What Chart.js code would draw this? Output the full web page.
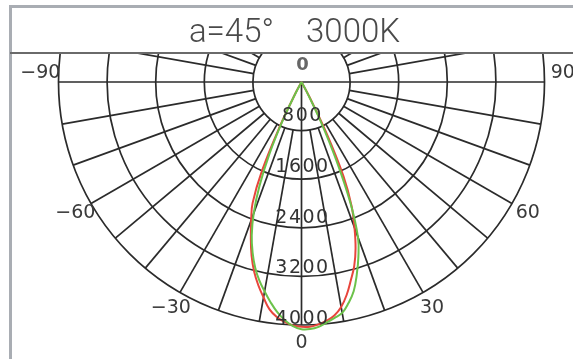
<!DOCTYPE html>
<html>
<head>
<meta charset="utf-8">
<script src="https://cdn.jsdelivr.net/npm/chart.js@4.4.1/dist/chart.umd.min.js"></script>
<style>
  html, body { margin: 0; padding: 0; background: #fff; }
  #wrap { position: relative; width: 573px; height: 359px; overflow: hidden; }
  #chartBox { position: absolute; left: 0; top: 0; width: 573px; height: 359px; }
  .frame-left { position: absolute; left: 9px; top: 5px; width: 3px; height: 354px; background: #a9adb3; }
  .frame-top { position: absolute; left: 9px; top: 5px; right: 0; height: 3px; background: #a9adb3; }
  .title-rule { position: absolute; left: 10px; top: 52px; right: 0; height: 2px; background: #6a6a6a; }
  .title { position: absolute; left: 16px; right: 0; top: 11px; text-align: center;
           font: 300 33px Roboto, "Liberation Sans", sans-serif; color: #4a4a4a; white-space: pre; }
</style>
</head>
<body>
<div id="wrap">
  <div id="chartBox"><canvas id="polarChart"></canvas></div>
  <div class="frame-left"></div>
  <div class="frame-top"></div>
  <div class="title-rule"></div>
  <div class="title">a=45°    3000K</div>
</div>
<script>
// Photometric data, candela vs angle (0 = straight down)
const angles = [-30, -28, -26, -24, -22, -20, -18, -16, -14, -12, -10, -8, -6, -4, -2,
                0, 2, 4, 6, 8, 10, 12, 14, 16, 18, 20, 22, 24, 26, 28, 30];
const intensityGreen = [0, 200, 700, 1300, 1850, 2300, 2650, 2920, 3150, 3340, 3500, 3660, 3810, 3930, 4020,
                        4070, 4070, 4040, 3980, 3920, 3860, 3720, 3550, 3300, 3030, 2720, 2150, 1400, 720, 180, 0];
const intensityRed = [0, 220, 800, 1600, 2150, 2420, 2700, 2980, 3220, 3420, 3600, 3780, 3890, 3960, 4010,
                      4030, 4030, 4000, 3950, 3880, 3760, 3580, 3360, 3150, 2880, 2550, 2200, 1700, 950, 280, 0];
const ringValues = [800, 1600, 2400, 3200, 4000];
const angleTicks = [-90, -60, -30, 0, 30, 60, 90];
const centerLabel = '0';

const PX_PER_4000 = 243;
const UNITS_PER_PX = 4000 / PX_PER_4000;
const CENTER_X = 301.5, CENTER_Y = 82, TOP = 54;

function toPoints(values) {
    return angles.map((deg, i) => {
        const a = deg * Math.PI / 180;
        return { x: values[i] * Math.sin(a), y: -values[i] * Math.cos(a) };
    });
}

function polarPx(chart, deg, r) {
    const a = deg * Math.PI / 180;
    return {
        x: chart.scales.x.getPixelForValue(r * Math.sin(a)),
        y: chart.scales.y.getPixelForValue(-r * Math.cos(a))
    };
}

const polarGrid = {
    id: 'polarGrid',
    beforeDatasetsDraw(chart) {
        const ctx = chart.ctx;
        const area = chart.chartArea;
        const c = polarPx(chart, 0, 0);
        const rPx = v => chart.scales.x.getPixelForValue(v) - chart.scales.x.getPixelForValue(0);
        const outer = ringValues[ringValues.length - 1];
        const inner = ringValues[0];
        ctx.save();
        ctx.beginPath();
        ctx.rect(area.left, area.top, area.right - area.left, area.bottom - area.top);
        ctx.clip();
        ctx.strokeStyle = '#2b2b2b';
        ctx.lineWidth = 1.7;
        ringValues.forEach(v => {
            ctx.beginPath();
            ctx.arc(c.x, c.y, rPx(v), 0, Math.PI * 2);
            ctx.stroke();
        });
        for (let deg = -180; deg < 180; deg += 10) {
            const full = deg === 0 || deg === 90 || deg === -90;
            const p1 = polarPx(chart, deg, full ? 0 : inner);
            const p2 = polarPx(chart, deg, outer);
            ctx.beginPath();
            ctx.moveTo(p1.x, p1.y);
            ctx.lineTo(p2.x, p2.y);
            ctx.stroke();
        }
        ctx.restore();
    },
    afterDatasetsDraw(chart) {
        const ctx = chart.ctx;
        const scale = chart.scales.x;
        const rPx = v => scale.getPixelForValue(v) - scale.getPixelForValue(0);
        const c = polarPx(chart, 0, 0);
        ctx.save();
        ctx.fillStyle = '#333';
        ctx.textAlign = 'center';
        ctx.textBaseline = 'middle';
        ctx.font = '19px "DejaVu Sans", sans-serif';
        if ('letterSpacing' in ctx) ctx.letterSpacing = '1.5px';
        // ring labels along the vertical axis
        ringValues.forEach(v => {
            const r = rPx(v) * 1.04 - 16;
            ctx.fillText(String(v), c.x + 1, c.y + r);
        });
        // angle labels outside the outer ring
        if ('letterSpacing' in ctx) ctx.letterSpacing = '0px';
        ctx.fillStyle = '#3a3a3a';
        const labelR = 4300;
        angleTicks.forEach(deg => {
            const p = polarPx(chart, deg, labelR);
            const shiftY = Math.abs(deg) === 90 ? -9 : 0;
            const txt = deg < 0 ? '\u2212' + Math.abs(deg) : String(deg);
            ctx.fillText(txt, p.x, p.y + shiftY);
        });
        ctx.font = 'bold 18px "DejaVu Sans", sans-serif';
        ctx.fillStyle = '#666';
        ctx.fillText(centerLabel, c.x + 1, c.y - 17);
        ctx.restore();
    }
};

const chart = new Chart(document.getElementById('polarChart'), {
    type: 'scatter',
    data: {
        datasets: [{
            label: 'green',
            data: toPoints(intensityGreen),
            showLine: true,
            borderColor: '#6cc24a',
            borderWidth: 2,
            pointRadius: 0,
            tension: 0.4,
            fill: false
        }, {
            label: 'red',
            data: toPoints(intensityRed),
            showLine: true,
            borderColor: '#e8453c',
            borderWidth: 2,
            pointRadius: 0,
            tension: 0.4,
            fill: false
        }]
    },
    options: {
        responsive: true,
        maintainAspectRatio: false,
        animation: false,
        layout: { padding: { top: TOP, left: 0, right: 0, bottom: 0 } },
        plugins: {
            legend: { display: false },
            tooltip: { enabled: false }
        },
        scales: {
            x: {
                type: 'linear',
                display: false,
                min: -CENTER_X * UNITS_PER_PX,
                max: (573 - CENTER_X) * UNITS_PER_PX
            },
            y: {
                type: 'linear',
                display: false,
                min: -(359 - CENTER_Y) * UNITS_PER_PX,
                max: (CENTER_Y - TOP) * UNITS_PER_PX
            }
        }
    },
    plugins: [polarGrid]
});
</script>
</body>
</html>
